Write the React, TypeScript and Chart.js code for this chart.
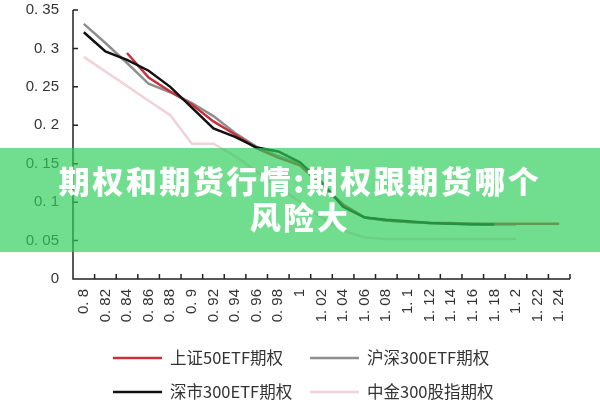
import React, { useEffect, useRef } from "react";
import { Chart, registerables } from "chart.js";

Chart.register(...registerables);

const categories = [
  "0. 8", "0. 82", "0. 84", "0. 86", "0. 88", "0. 9", "0. 92", "0. 94", "0. 96", "0. 98",
  "1", "1. 02", "1. 04", "1. 06", "1. 08", "1. 1", "1. 12", "1. 14", "1. 16", "1. 18",
  "1. 2", "1. 22", "1. 24",
];

const yTickLabels = ["0", "0. 05", "0. 1", "0. 15", "0. 2", "0. 25", "0. 3", "0. 35"];

const sz50Etf = [null, null, 0.294, 0.262, 0.244, 0.227, 0.205, 0.188, 0.17, 0.158, 0.148, 0.122, 0.097, 0.08, 0.076, 0.074, 0.073, 0.073, 0.072, 0.072, 0.072, 0.072, 0.072];
const hs300Etf = [0.332, 0.307, 0.281, 0.254, 0.243, 0.229, 0.212, 0.19, 0.172, 0.16, 0.15, 0.124, 0.096, 0.08, 0.076, 0.074, 0.073, 0.072, 0.072, 0.071, 0.071, null, null];
const shen300Etf = [0.321, 0.296, 0.285, 0.271, 0.25, 0.223, 0.196, 0.185, 0.171, 0.166, 0.152, 0.126, 0.094, 0.08, 0.077, 0.075, 0.073, 0.072, 0.071, 0.071, null, null, null];
const zj300Index = [0.289, 0.27, 0.251, 0.232, 0.213, 0.176, 0.176, 0.16, 0.14, 0.12, 0.1, 0.08, 0.063, 0.054, 0.052, 0.052, 0.052, 0.052, 0.052, 0.052, 0.052, null, null];

const seriesNames = ["上证50ETF期权", "沪深300ETF期权", "深市300ETF期权", "中金300股指期权"];
const seriesColors = ["#c8303c", "#8e8e8e", "#111111", "#f1d2d9"];

const titleLine1 = "期权和期货行情:期权跟期货哪个";
const titleLine2 = "风险大";

const axisPlugin = {
  id: "axisTicks",
  afterDraw(chart: any) {
    const ctx = chart.ctx;
    const { left, right, top, bottom } = chart.chartArea;
    const ys = chart.scales.y;
    const n = categories.length;
    ctx.save();
    ctx.strokeStyle = "#222";
    ctx.lineWidth = 1.5;
    ctx.beginPath();
    ctx.moveTo(left, top);
    ctx.lineTo(left, bottom);
    ctx.lineTo(right, bottom);
    ys.ticks.forEach((t: any) => {
      const py = ys.getPixelForValue(t.value);
      ctx.moveTo(left, py);
      ctx.lineTo(left + 5, py);
    });
    for (let i = 1; i <= n; i++) {
      const px = left + ((right - left) * i) / n;
      ctx.moveTo(px, bottom);
      ctx.lineTo(px, bottom - 5);
    }
    ctx.stroke();
    ctx.restore();
  },
};

const legendPlugin = {
  id: "gridLegend",
  afterDraw(chart: any) {
    const ctx = chart.ctx;
    const cols = [113, 310];
    const rows = [358, 392];
    ctx.save();
    ctx.font = '16.5px "Noto Sans CJK SC", "Noto Sans", sans-serif';
    ctx.textBaseline = "middle";
    ctx.textAlign = "left";
    seriesNames.forEach((name, i) => {
      const x = cols[i % 2];
      const y = rows[Math.floor(i / 2)];
      ctx.strokeStyle = seriesColors[i];
      ctx.lineWidth = 2.5;
      ctx.beginPath();
      ctx.moveTo(x, y);
      ctx.lineTo(x + 49, y);
      ctx.stroke();
      ctx.fillStyle = "#333";
      ctx.fillText(name, x + 57, y);
    });
    ctx.restore();
  },
};

export default function App() {
  const canvasRef = useRef<HTMLCanvasElement | null>(null);

  useEffect(() => {
    document.body.style.margin = "0";
    const canvas = canvasRef.current;
    if (!canvas) return;
    const seriesData = [sz50Etf, hs300Etf, shen300Etf, zj300Index];
    const orders = [1, 2, 0, 3];
    const chart = new Chart(canvas, {
      type: "line",
      data: {
        labels: categories,
        datasets: seriesData.map((d, i) => ({
          label: seriesNames[i],
          data: d,
          borderColor: seriesColors[i],
          backgroundColor: seriesColors[i],
          borderWidth: 2.5,
          pointRadius: 0,
          tension: 0,
          fill: false,
          spanGaps: false,
          order: orders[i],
        })),
      },
      options: {
        responsive: false,
        animation: false,
        layout: { padding: { top: 10, right: 30, left: 0, bottom: 0 } },
        plugins: {
          legend: { display: false },
          tooltip: { enabled: false },
        },
        scales: {
          x: {
            type: "category",
            offset: true,
            grid: { display: false, drawTicks: false },
            border: { display: false },
            afterFit: (s: any) => {
              s.height = 121;
            },
            ticks: {
              autoSkip: false,
              maxRotation: 90,
              minRotation: 90,
              padding: 10,
              color: "#333",
              font: { family: '"Liberation Sans", Arial, sans-serif', size: 15 },
            },
          },
          y: {
            min: 0,
            max: 0.35,
            grid: { display: false, drawTicks: false },
            border: { display: false },
            afterFit: (s: any) => {
              s.width = 73;
              s.paddingTop = 0;
              s.paddingBottom = 0;
            },
            ticks: {
              stepSize: 0.05,
              padding: 14,
              color: "#333",
              font: { family: '"Liberation Sans", Arial, sans-serif', size: 15 },
              callback: (_v: any, idx: number) => yTickLabels[idx],
            },
          },
        },
      },
      plugins: [axisPlugin, legendPlugin],
    });
    return () => chart.destroy();
  }, []);

  return (
    <div style={{ position: "relative", width: 600, height: 400, overflow: "hidden", background: "#fff" }}>
      <canvas ref={canvasRef} width={600} height={400} style={{ display: "block" }} />
      <div
        style={{
          position: "absolute",
          left: 0,
          top: 148,
          width: 600,
          height: 104,
          background: "rgba(45,205,90,0.68)",
          color: "#fff",
          fontFamily: '"Noto Sans CJK SC", sans-serif',
          fontWeight: 900,
          fontSize: 31,
          lineHeight: "36px",
          letterSpacing: "2.5px",
          textAlign: "center",
          paddingTop: 14,
          boxSizing: "border-box",
        }}
      >
        <div>{titleLine1}</div>
        <div>{titleLine2}</div>
      </div>
    </div>
  );
}
